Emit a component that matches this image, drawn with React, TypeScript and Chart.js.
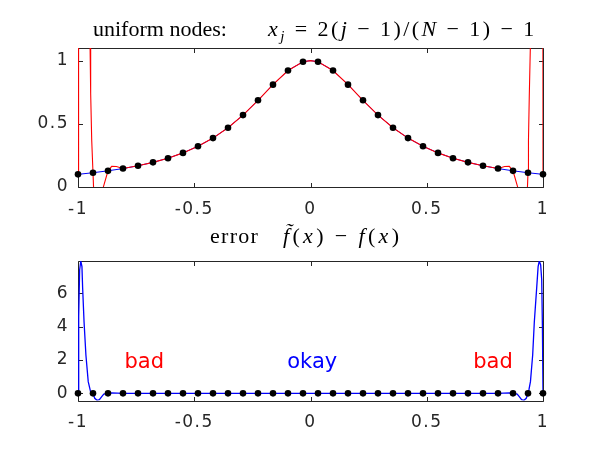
import React, { useEffect, useRef } from "react";
import { Chart, registerables } from "chart.js";

Chart.register(...registerables);

// ---------- data ----------
const xTicks = [-1, -0.5, 0, 0.5, 1];
const topYTicks = [0, 0.5, 1];
const bottomYTicks = [0, 2, 4, 6];

// 32 uniform nodes and sampled f at nodes
const nodeX = [-1, -0.9355, -0.871, -0.8065, -0.7419, -0.6774, -0.6129, -0.5484, -0.4839, -0.4194, -0.3548, -0.2903, -0.2258, -0.1613, -0.0968, -0.0323, 0.0323, 0.0968, 0.1613, 0.2258, 0.2903, 0.3548, 0.4194, 0.4839, 0.5484, 0.6129, 0.6774, 0.7419, 0.8065, 0.871, 0.9355, 1];
const nodeY = [0.1, 0.113, 0.128, 0.146, 0.168, 0.195, 0.228, 0.27, 0.322, 0.387, 0.469, 0.569, 0.686, 0.81, 0.922, 0.991, 0.991, 0.922, 0.81, 0.686, 0.569, 0.469, 0.387, 0.322, 0.27, 0.228, 0.195, 0.168, 0.146, 0.128, 0.113, 0.1];

// exact function f(x) (blue, top panel)
const fX = [-1, -0.9355, -0.871, -0.8065, -0.7419, -0.6774, -0.6129, -0.5484, -0.4839, -0.4194, -0.3548, -0.2903, -0.2258, -0.1613, -0.0968, -0.0323, 0, 0.0323, 0.0968, 0.1613, 0.2258, 0.2903, 0.3548, 0.4194, 0.4839, 0.5484, 0.6129, 0.6774, 0.7419, 0.8065, 0.871, 0.9355, 1];
const fY = [0.1, 0.113, 0.128, 0.146, 0.168, 0.195, 0.228, 0.27, 0.322, 0.387, 0.469, 0.569, 0.686, 0.81, 0.922, 0.991, 1.0, 0.991, 0.922, 0.81, 0.686, 0.569, 0.469, 0.387, 0.322, 0.27, 0.228, 0.195, 0.168, 0.146, 0.128, 0.113, 0.1];

// interpolant (red, top panel)
const interpX = [-1, -0.999, -0.996, -0.992, -0.986, -0.98, -0.972, -0.962, -0.954, -0.948, -0.9455, -0.941, -0.9355, -0.93, -0.918, -0.905, -0.891, -0.871, -0.855, -0.835, -0.8065, -0.7419, -0.6774, -0.6129, -0.5484, -0.4839, -0.4194, -0.3548, -0.2903, -0.2258, -0.1613, -0.0968, -0.0323, 0, 0.0323, 0.0968, 0.1613, 0.2258, 0.2903, 0.3548, 0.4194, 0.4839, 0.5484, 0.6129, 0.6774, 0.7419, 0.8065, 0.835, 0.855, 0.871, 0.891, 0.905, 0.918, 0.93, 0.9355, 0.9375, 0.941, 0.9455, 0.952, 0.96, 0.97, 0.978, 0.984, 0.99, 0.995, 0.999, 1];
const interpY = [0.1, 2.6, 4.9, 7.3, 8.0, 7.2, 5.2, 2.9, 1.6, 1.1, 0.74, 0.37, 0.113, -0.15, -0.3, -0.25, 0.0, 0.128, 0.163, 0.162, 0.146, 0.168, 0.195, 0.228, 0.27, 0.322, 0.387, 0.469, 0.569, 0.686, 0.81, 0.922, 0.991, 1.0, 0.991, 0.922, 0.81, 0.686, 0.569, 0.469, 0.387, 0.322, 0.27, 0.228, 0.195, 0.168, 0.146, 0.162, 0.163, 0.128, 0.0, -0.25, -0.3, -0.15, 0.113, 0.37, 0.72, 1.1, 1.6, 2.9, 5.2, 7.2, 8.0, 7.3, 4.9, 2.6, 0.1];

// error (blue, bottom panel)
const errX = [-1, -0.997, -0.993, -0.988, -0.983, -0.98, -0.974, -0.966, -0.956, -0.946, -0.9355, -0.928, -0.918, -0.908, -0.898, -0.889, -0.871, -0.855, -0.8065, 0.8065, 0.855, 0.871, 0.889, 0.898, 0.908, 0.918, 0.928, 0.9355, 0.94, 0.946, 0.9556, 0.9627, 0.9727, 0.979, 0.984, 0.99, 0.9945, 0.9975, 1];
const errY = [0, 4.6, 7.4, 7.94, 7.6, 6.3, 4.3, 2.3, 0.7, 0.1, 0, -0.3, -0.42, -0.38, -0.2, -0.05, 0, 0.03, 0, 0, 0.03, 0, -0.05, -0.2, -0.38, -0.42, -0.3, 0, 0.25, 0.7, 2.3, 4.3, 6.3, 7.6, 7.94, 7.7, 6.8, 4.0, 0];

// error at nodes (black dots, bottom panel)
const nodeErr = [0, 0, 0, 0, 0, 0, 0, 0, 0, 0, 0, 0, 0, 0, 0, 0, 0, 0, 0, 0, 0, 0, 0, 0, 0, 0, 0, 0, 0, 0, 0, 0];

// annotations in bottom panel
const noteText = ["bad", "okay", "bad"];
const noteX = [-0.8, -0.1, 0.7];
const noteY = [2, 2, 2];
const noteColor = ["#ff0000", "#0000ff", "#ff0000"];

// ---------- styling ----------
const AXIS = "#262626";
const TICK_FONT = { family: "'DejaVu Sans', sans-serif", size: 17 };

const pts = (xs: number[], ys: number[]) => xs.map((x, i) => ({ x, y: ys[i] }));

const boxPlugin = {
  id: "octaveBox",
  beforeDraw(chart: any) {
    try { chart.ctx.letterSpacing = "1.5px"; } catch (e) {}
  },
  beforeDatasetsDraw(chart: any) {
    const { ctx, chartArea: a, scales } = chart;
    const L = Math.round(a.left) + 0.5;
    const R = Math.round(a.right) + 0.5;
    const T = Math.round(a.top) + 0.5;
    const B = Math.round(a.bottom) + 0.5;
    const TL = 4.5;
    ctx.save();
    ctx.strokeStyle = AXIS;
    ctx.lineWidth = 1;
    ctx.beginPath();
    ctx.rect(L, T, R - L, B - T);
    scales.x.ticks.forEach((t: any) => {
      const px = Math.round(scales.x.getPixelForValue(t.value)) + 0.5;
      ctx.moveTo(px, B); ctx.lineTo(px, B - TL);
      ctx.moveTo(px, T); ctx.lineTo(px, T + TL);
    });
    scales.y.ticks.forEach((t: any) => {
      const py = Math.round(scales.y.getPixelForValue(t.value)) + 0.5;
      ctx.moveTo(L, py); ctx.lineTo(L + TL, py);
      ctx.moveTo(R, py); ctx.lineTo(R - TL, py);
    });
    ctx.stroke();
    ctx.restore();
  },
  afterDraw(chart: any) {
    try { chart.ctx.letterSpacing = "0px"; } catch (e) {}
  },
};

const notesPlugin = {
  id: "notes",
  afterDatasetsDraw(chart: any) {
    const { ctx, scales } = chart;
    ctx.save();
    try { ctx.letterSpacing = "0px"; } catch (e) {}
    ctx.font = "21px 'DejaVu Sans', sans-serif";
    ctx.textAlign = "left";
    ctx.textBaseline = "alphabetic";
    noteText.forEach((s, i) => {
      ctx.fillStyle = noteColor[i];
      ctx.fillText(s, scales.x.getPixelForValue(noteX[i]), scales.y.getPixelForValue(noteY[i]) + 8);
    });
    ctx.restore();
  },
};

function makeScales(yMin: number, yMax: number, yTicks: number[]) {
  return {
    x: {
      type: "linear",
      min: -1,
      max: 1,
      grid: { display: false, drawTicks: false },
      border: { display: false },
      afterBuildTicks: (s: any) => { s.ticks = xTicks.map((v) => ({ value: v })); },
      afterFit: (s: any) => { s.height = 30; },
      ticks: {
        autoSkip: false,
        maxRotation: 0,
        padding: 12,
        color: AXIS,
        font: TICK_FONT,
        callback: (v: any) => String(v),
      },
    },
    y: {
      type: "linear",
      min: yMin,
      max: yMax,
      grid: { display: false, drawTicks: false },
      border: { display: false },
      afterBuildTicks: (s: any) => { s.ticks = yTicks.map((v) => ({ value: v })); },
      afterFit: (s: any) => { s.width = 40; },
      ticks: {
        autoSkip: false,
        padding: 9,
        color: AXIS,
        font: TICK_FONT,
        callback: (v: any) => String(v),
      },
    },
  };
}

const common = {
  animation: false,
  responsive: false,
  maintainAspectRatio: false,
  events: [] as any[],
  plugins: { legend: { display: false }, tooltip: { enabled: false }, title: { display: false } },
};

const serif = "'Liberation Serif', 'Times New Roman', serif";

function Op({ c, m }: { c: string; m: number }) {
  return <span style={{ margin: `0 ${m}px`, fontStyle: "normal" }}>{c}</span>;
}

export default function App() {
  const topRef = useRef<HTMLCanvasElement>(null);
  const botRef = useRef<HTMLCanvasElement>(null);

  useEffect(() => {
    const top = new Chart(topRef.current as HTMLCanvasElement, {
      type: "scatter",
      data: {
        datasets: [
          {
            data: pts(nodeX, nodeY),
            showLine: false,
            pointRadius: 3.3,
            pointBackgroundColor: "#000",
            pointBorderWidth: 0,
            clip: false,
            order: 0,
          },
          {
            data: pts(interpX, interpY),
            showLine: true,
            borderColor: "#ff0000",
            borderWidth: 1.1,
            pointRadius: 0,
            order: 1,
          },
          {
            data: pts(fX, fY),
            showLine: true,
            borderColor: "#0000ff",
            borderWidth: 1,
            pointRadius: 0,
            order: 2,
          },
        ],
      } as any,
      options: {
        ...common,
        layout: { padding: { left: 38, right: 57, top: 48, bottom: 8 } },
        scales: makeScales(0, 1.1, topYTicks),
      } as any,
      plugins: [boxPlugin],
    });

    const bot = new Chart(botRef.current as HTMLCanvasElement, {
      type: "scatter",
      data: {
        datasets: [
          {
            data: pts(nodeX, nodeErr),
            showLine: false,
            pointRadius: 3.3,
            pointBackgroundColor: "#000",
            pointBorderWidth: 0,
            clip: false,
            order: 0,
          },
          {
            data: pts(errX, errY),
            showLine: true,
            borderColor: "#0000ff",
            borderWidth: 1.3,
            pointRadius: 0,
            order: 1,
          },
        ],
      } as any,
      options: {
        ...common,
        layout: { padding: { left: 38, right: 57, top: 36, bottom: 19.5 } },
        scales: makeScales(-0.43, 7.94, bottomYTicks),
      } as any,
      plugins: [boxPlugin, notesPlugin],
    });

    return () => {
      top.destroy();
      bot.destroy();
    };
  }, []);

  const titleBase: React.CSSProperties = {
    position: "absolute",
    fontFamily: serif,
    fontSize: 22,
    lineHeight: "22px",
    color: "#000",
    whiteSpace: "nowrap",
  };

  return (
    <div style={{ position: "fixed", left: 0, top: 0, width: 600, height: 450, background: "#fff", overflow: "hidden" }}>
      <canvas ref={topRef} width={600} height={225} style={{ position: "absolute", left: 0, top: 0, width: 600, height: 225 }} />
      <canvas ref={botRef} width={600} height={225} style={{ position: "absolute", left: 0, top: 225, width: 600, height: 225 }} />

      <div style={{ ...titleBase, left: 93, top: 18 }}>uniform nodes:</div>
      <div style={{ ...titleBase, left: 268, top: 18, letterSpacing: "2.4px" }}>
        <i>x</i>
        <span style={{ fontSize: 15, position: "relative", top: 5 }}><i>j</i></span>
        <Op c="=" m={8} />2(<i>j</i><Op c="−" m={8} />1)/(<i>N</i><Op c="−" m={8} />1)<Op c="−" m={8} />1
      </div>

      <div style={{ ...titleBase, left: 210, top: 225, letterSpacing: "1.3px" }}>error</div>
      <div style={{ ...titleBase, left: 283, top: 225, letterSpacing: "3.3px" }}>
        <i>f̃</i>(<i>x</i>)<Op c="−" m={8} /><i>f</i>(<i>x</i>)
      </div>
    </div>
  );
}
